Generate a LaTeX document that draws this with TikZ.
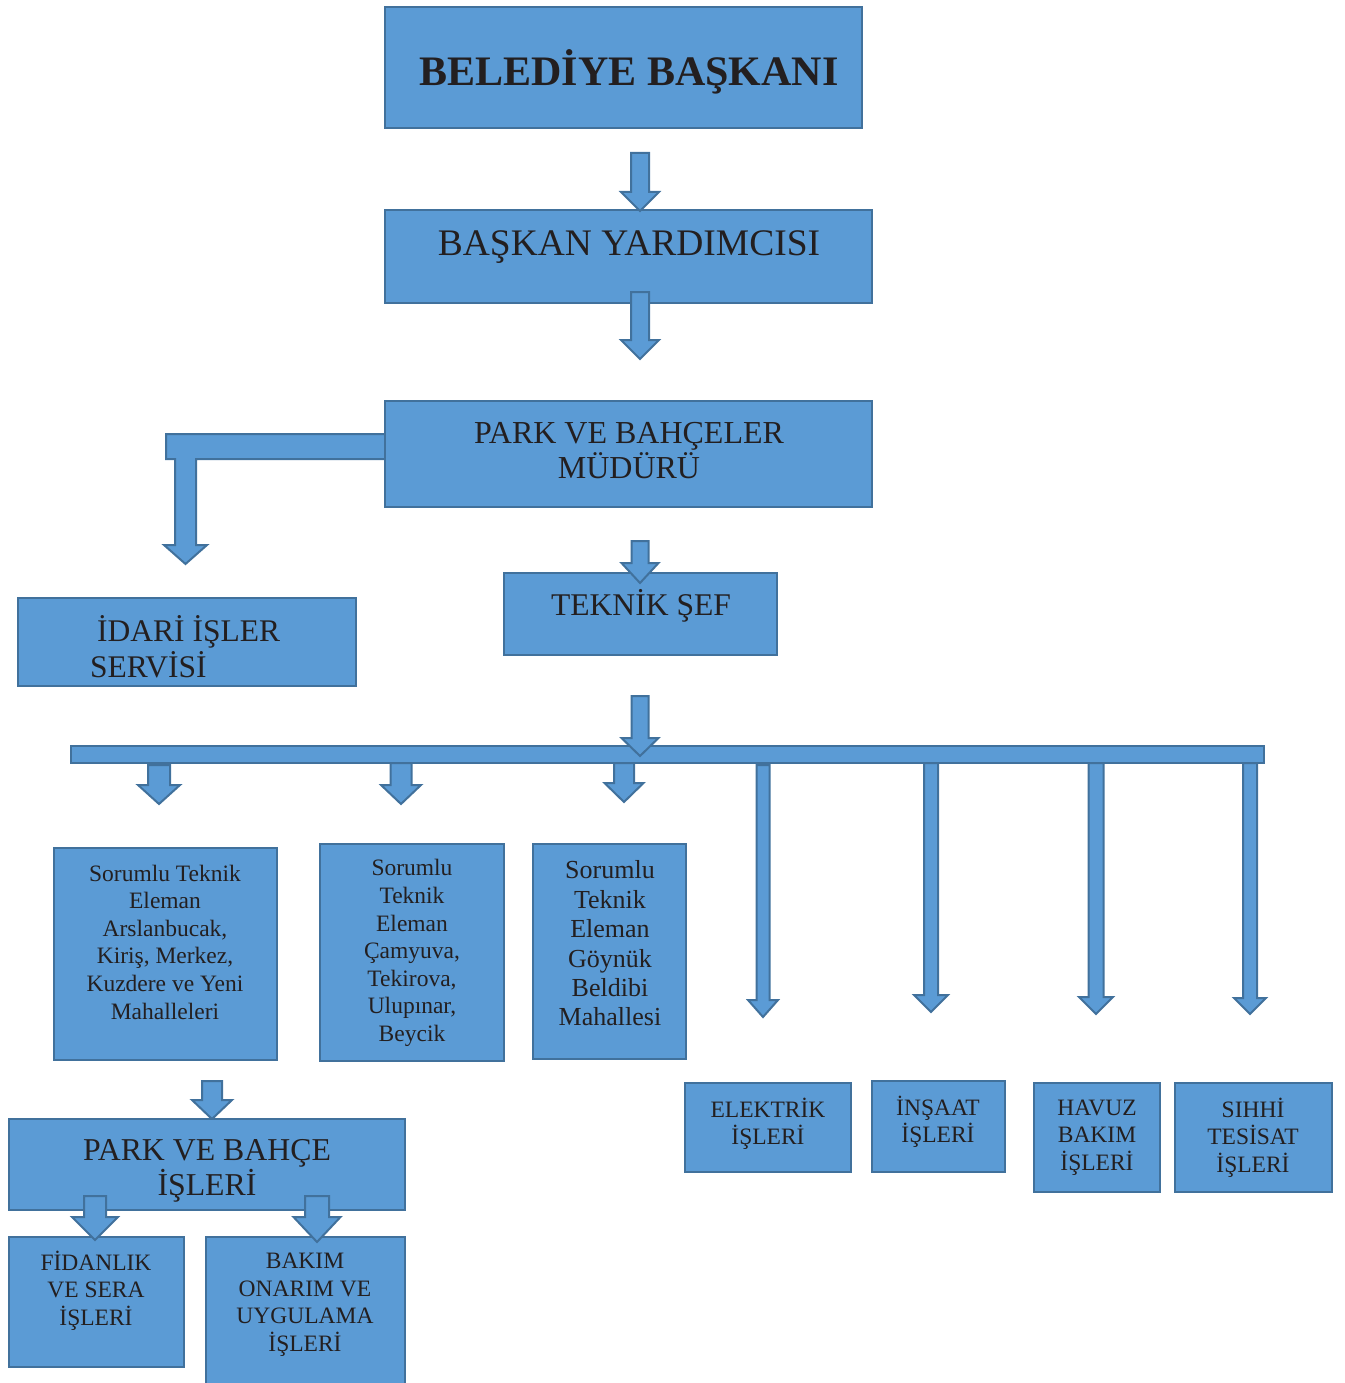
\documentclass[tikz,border=0pt]{standalone}
\usepackage{fontspec}
\setmainfont{Liberation Serif}
\definecolor{fillc}{RGB}{91,155,213}
\definecolor{bordc}{RGB}{65,113,156}
\definecolor{txtc}{RGB}{35,31,32}
\tikzset{
  boxst/.style={draw=bordc, fill=fillc, line width=2pt, inner sep=0pt, rectangle},
  arrst/.style={draw=bordc, fill=fillc, line width=2pt, line join=miter},
  txt/.style={text=txtc, align=center, inner sep=0pt},
}
\newcommand{\bx}[5]{\node[boxst, minimum width={#4-#2}, minimum height={#5-#3}] (#1) at ({(#2+#4)/2},{(#3+#5)/2}) {};}
\newcommand{\barrow}[6]{\draw[arrst] ({#1-#5},#2) -- ({#1+#5},#2) -- ({#1+#5},#3) -- ({#1+#6},#3) -- (#1,#4) -- ({#1-#6},#3) -- ({#1-#5},#3) -- cycle;}
\newcommand{\fs}[2]{\fontsize{#1}{#2}\selectfont}
\begin{document}
\begin{tikzpicture}[x=1pt,y=-1pt]
\useasboundingbox (0,0) rectangle (1344,1383);
\clip (0,0) rectangle (1344,1383);
% top chain
\bx{bb}{385}{7}{862}{128}
\node[txt, anchor=base, font=\fs{42}{48}\bfseries] (bbt) at (629,86) {BELEDİYE BAŞKANI};
\bx{by}{385}{210}{872}{303}
\node[txt, anchor=base, font=\fs{37.5}{42}] (byt) at (629,255) {BAŞKAN YARDIMCISI};
\barrow{640}{153}{192}{211}{9}{19}
\barrow{640}{292}{340}{359}{9}{19}
% L arrow to idari
\draw[arrst] (166,434) -- (385,434) -- (385,459) -- (196,459) -- (196,545) -- (207,545) -- (185.5,564) -- (164,545) -- (175,545) -- (175,459) -- (166,459) -- cycle;
\bx{pm}{385}{401}{872}{507}
\node[txt, font=\fs{32}{35}] (pmt) at (629,450.5) {PARK VE BAHÇELER\\MÜDÜRÜ};
\bx{id}{18}{598}{356}{686}
\node[txt, align=left, anchor=west, font=\fs{31.5}{36}] (idt) at (90,647) {\hspace*{7pt}İDARİ İŞLER\\SERVİSİ};
\bx{ts}{504}{573}{777}{655}
\node[txt, font=\fs{31.6}{36}] (tst) at (641,606) {TEKNİK ŞEF};
\barrow{640}{541}{563}{583}{8.5}{18.5}
% bar
\bx{bar}{71}{746}{1264}{763}
\barrow{640}{696}{738}{756}{8.5}{18.5}
\barrow{159}{765}{785}{804}{11}{21}
\barrow{401}{763}{785}{804}{10.5}{20}
\barrow{624}{763}{783}{802}{10}{19.5}
\barrow{763}{765}{1000}{1017}{6.5}{15}
\barrow{931}{763}{995}{1012}{7}{17}
\barrow{1096}{763}{997}{1014}{7.5}{17}
\barrow{1250}{763}{998}{1014}{7}{16}
% sorumlu boxes
\bx{s1}{54}{848}{277}{1060}
\node[txt, font=\fs{23.5}{27.6}] (s1t) at (165,942) {Sorumlu Teknik\\Eleman\\Arslanbucak,\\Kiriş, Merkez,\\Kuzdere ve Yeni\\Mahalleleri};
\bx{s2}{320}{844}{504}{1061}
\node[txt, font=\fs{23.5}{27.6}] (s2t) at (412,953) {Sorumlu\\Teknik\\Eleman\\Çamyuva,\\Tekirova,\\Ulupınar,\\Beycik};
\bx{s3}{533}{844}{686}{1059}
\node[txt, font=\fs{26}{29.4}] (s3t) at (610,943.5) {Sorumlu\\Teknik\\Eleman\\Göynük\\Beldibi\\Mahallesi};
% park ve bahce isleri
\barrow{212}{1081}{1100}{1119}{10}{20}
\bx{pb}{9}{1119}{405}{1210}
\node[txt, font=\fs{31.8}{35}] (pbt) at (207,1170.5) {PARK VE BAHÇE\\İŞLERİ};
\bx{fi}{9}{1237}{184}{1367}
\node[txt, font=\fs{23.5}{27.5}] (fit) at (96,1290.5) {FİDANLIK\\VE SERA\\İŞLERİ};
\bx{ba}{206}{1237}{405}{1400}
\node[txt, font=\fs{23.5}{27.5}] (bat) at (305,1304.5) {BAKIM\\ONARIM VE\\UYGULAMA\\İŞLERİ};
\barrow{95}{1196}{1217}{1240}{11}{23}
\barrow{317}{1196}{1217}{1242}{12}{23.5}
% right boxes
\bx{el}{685}{1083}{851}{1172}
\node[txt, font=\fs{23.5}{27.5}] (elt) at (768,1124) {ELEKTRİK\\İŞLERİ};
\bx{in}{872}{1081}{1005}{1172}
\node[txt, font=\fs{23.5}{27.5}] (intx) at (938,1122) {İNŞAAT\\İŞLERİ};
\bx{hv}{1034}{1083}{1160}{1192}
\node[txt, font=\fs{23.5}{27.5}] (hvt) at (1097,1137.5) {HAVUZ\\BAKIM\\İŞLERİ};
\bx{sh}{1175}{1083}{1332}{1192}
\node[txt, font=\fs{23.5}{27.5}] (sht) at (1253,1137.5) {SIHHİ\\TESİSAT\\İŞLERİ};
\end{tikzpicture}
\end{document}
